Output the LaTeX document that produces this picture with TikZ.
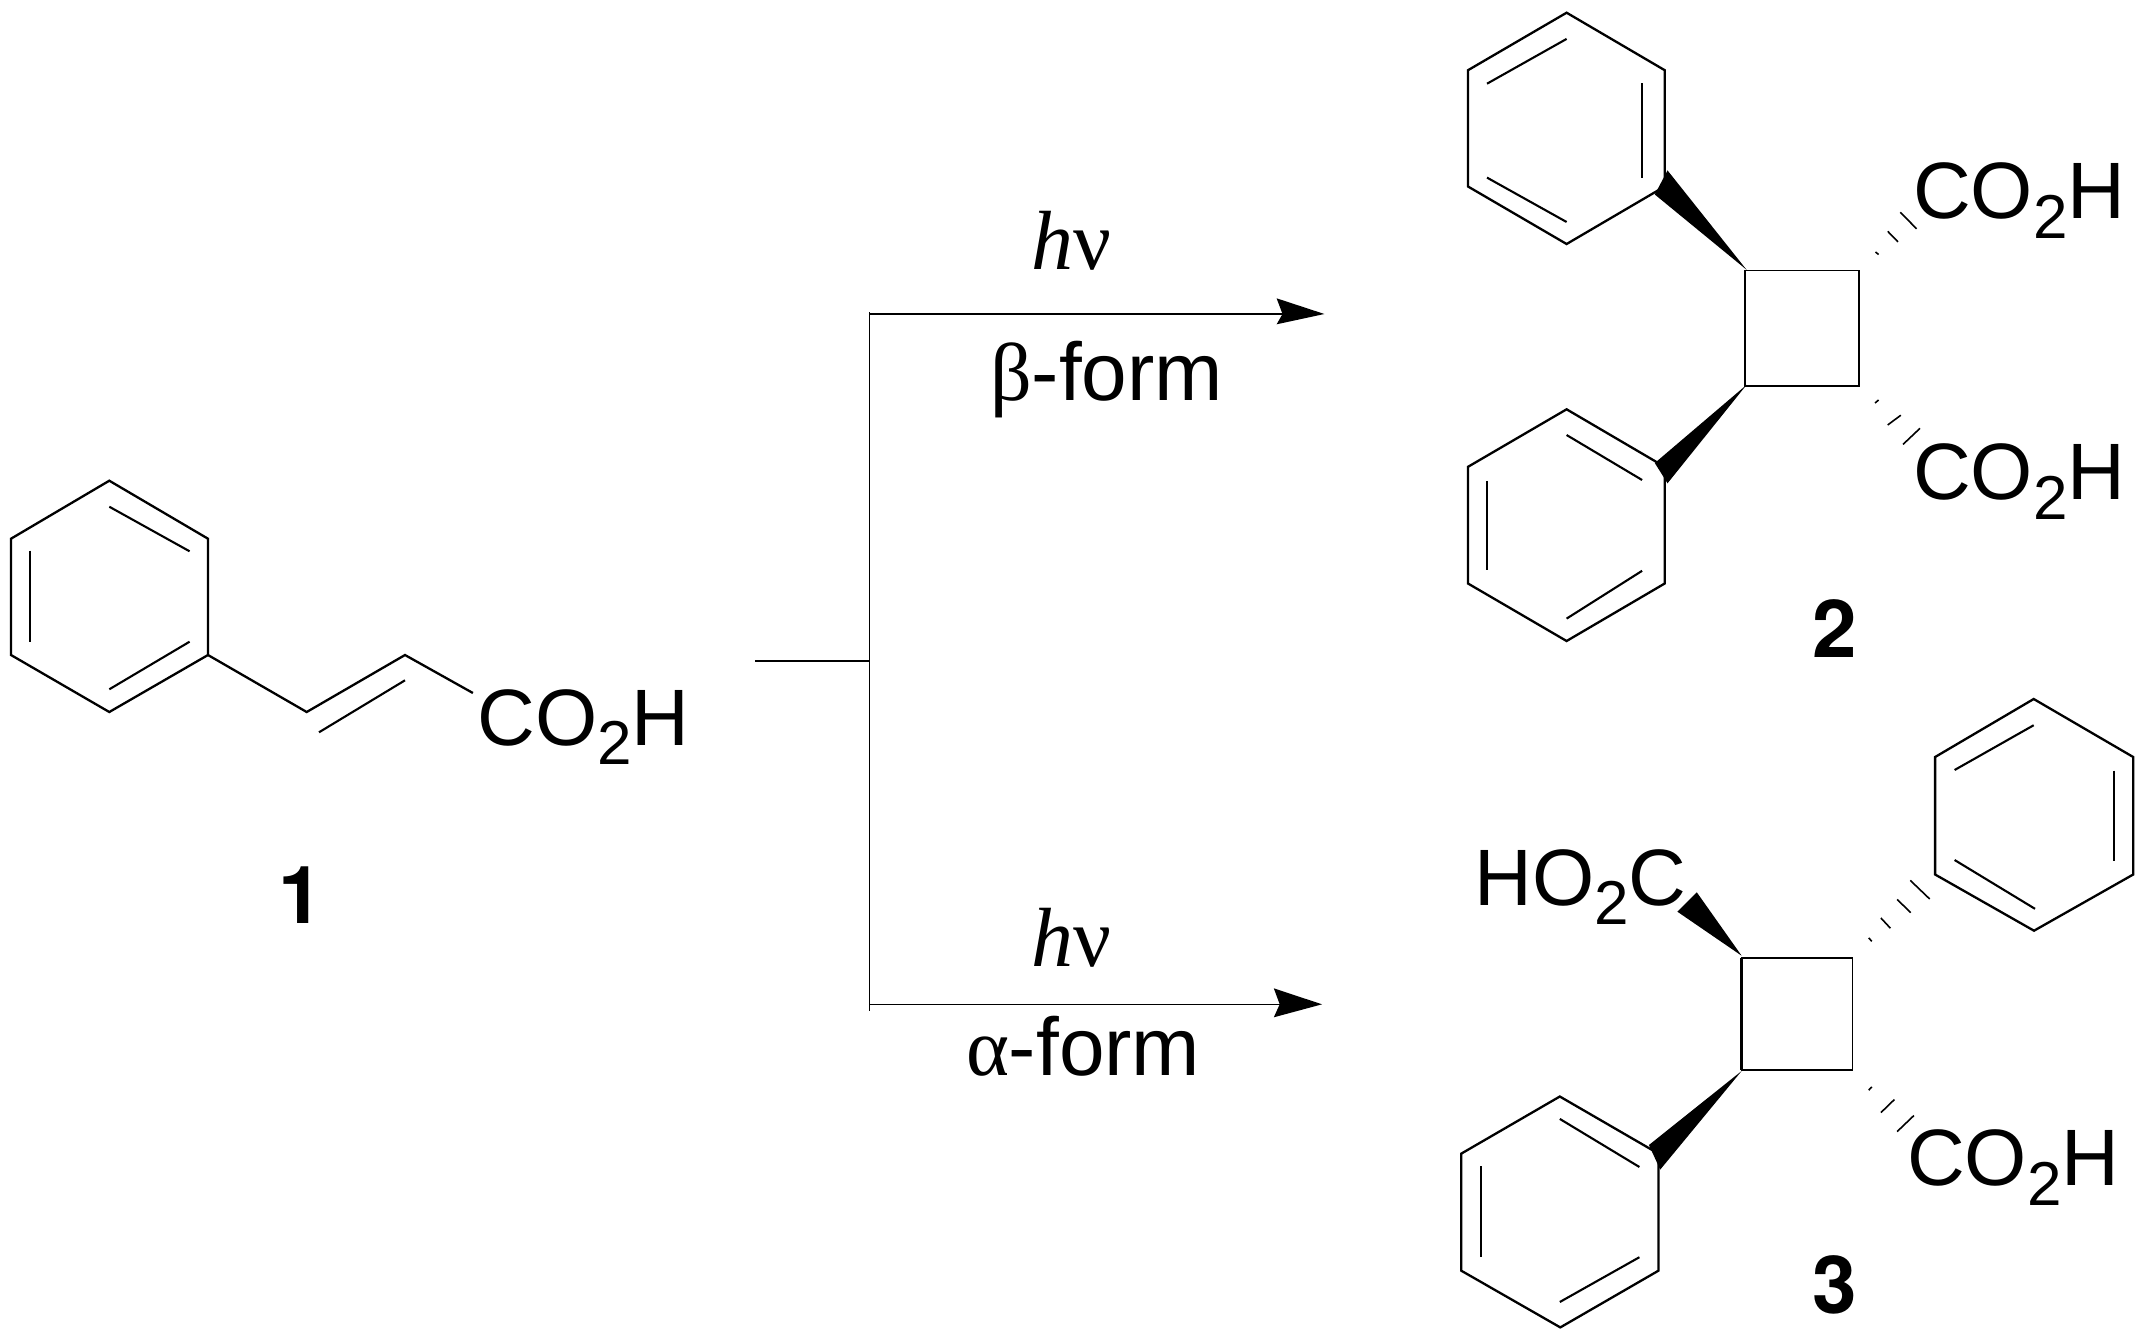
\documentclass[tikz,border=0pt]{standalone}
\usepackage{fontspec}
\setmainfont{Liberation Sans}
\newfontfamily\serifgreek{Liberation Serif}
\newfontfamily\labelfont{TeX Gyre Heros}
\newcommand{\bigfont}{\fontsize{40}{48}\selectfont}
\newcommand{\midfont}{\fontsize{41}{48}\selectfont}
\newcommand{\nufont}{\fontsize{42}{48}\selectfont}
\newcommand{\subtwo}{\raisebox{-9.7pt}{\fontsize{31}{36}\selectfont 2}}
\newcommand{\cooh}{CO\subtwo H}
\newcommand{\hooc}{HO\subtwo C}
\newcommand{\hnu}{{\serifgreek\itshape h\upshape ν}}
\tikzset{
  bond/.style={line width=1.15pt,line join=miter,line cap=butt,black},
  fine/.style={line width=1.05pt,line cap=butt,black},
  squarebond/.style={line width=0.85pt,line join=miter,line cap=butt,black},
  heavyside/.style={line width=1.3pt,line cap=butt,black},
  hashbond/.style={line width=0.8pt,line cap=butt,black},
  wedgebond/.style={fill=black,draw=none},
  chem/.style={inner sep=0pt,outer sep=0pt,anchor=base west,font=\bigfont},
  cmpd/.style={inner sep=0pt,outer sep=0pt,anchor=base,font=\labelfont\bigfont\bfseries},
  reagent/.style={inner sep=0pt,outer sep=0pt,anchor=base west,font=\midfont},
  hvlabel/.style={inner sep=0pt,outer sep=0pt,anchor=base west,font=\nufont},
  rxn/.style={line width=1.05pt,line cap=butt,black},
  rxnthin/.style={line width=0.8pt,line cap=butt,black},
  tip/.style={fill=black,draw=none}
}
\begin{document}
\begin{tikzpicture}[x=0.5pt,y=-0.5pt]
\useasboundingbox (0,0) rectangle (2149,1340);
% ---- compound 1
\draw[bond] (109.3,480.7) -- (208,538.7) -- (208,655) -- (109.3,712) -- (11,655) -- (11,538.7) -- cycle;
\draw[fine] (109.3,506.7) -- (189.6,551.3);
\draw[fine] (29.8,550.7) -- (29.8,641.7);
\draw[fine] (109.3,689.3) -- (189.6,641.7);
\node[chem] (acidA) at (477.5,745) {\cooh};
\coordinate (chainA) at (472.9,693);
\draw[bond] (208,655) -- (306.7,712) -- (405,655) -- (chainA);
\draw[fine] (319,732.3) -- (405,680.3);
\node[cmpd] (labA) at (301,923.3) {1};
% ---- reaction scheme
\coordinate (start) at (755,661);
\coordinate (branch) at (869.3,661);
\coordinate (topcorner) at (869.3,314);
\coordinate (botcorner) at (869.3,1004.3);
\coordinate (topend) at (1282.5,314);
\coordinate (botend) at (1279.7,1004.3);
\coordinate (vtop) at (869.3,312);
\coordinate (vbot) at (869.3,1010.7);
\draw[rxn] (start) -- (branch);
\draw[rxnthin] (vtop) -- (vbot);
\draw[rxn] (topcorner) -- (topend);
\draw[rxnthin] (botcorner) -- (botend);
\fill[tip] (1324.4,314) -- (1276.6,298.3) -- (topend) -- (1276.6,324.3) -- cycle;
\fill[tip] (1322,1004.3) -- (1273.8,988.3) -- (botend) -- (1273.8,1017.3) -- cycle;
\node[hvlabel] (hvtop) at (1031.8,269.3) {\hnu};
\node[hvlabel] (hvbot) at (1031.8,966) {\hnu};
\node[reagent] (beta) at (990,400.7) {{\serifgreek β}-form};
\node[reagent] (alpha) at (966,1075) {{\serifgreek α}-form};
% ---- compound 2
\coordinate (a1) at (1744.8,270.6);
\coordinate (a2) at (1859.2,270.6);
\coordinate (a3) at (1859.2,386);
\coordinate (a4) at (1744.8,386);
\draw[squarebond] (a1) -- (a2) -- (a3) -- (a4) -- cycle;
\draw[bond] (1566.6,12.7) -- (1664.7,70.2) -- (1664.7,186.5) -- (1566.6,244) -- (1468,186.5) -- (1468,70.2) -- cycle;
\draw[fine] (1487,83.7) -- (1566.6,38.9);
\draw[fine] (1642.1,83.3) -- (1642.1,177.6);
\draw[fine] (1487,177.6) -- (1566.6,222);
\draw[bond] (1566.6,409.3) -- (1664.7,466.8) -- (1664.7,583.5) -- (1566.6,641) -- (1468,583.5) -- (1468,466.8) -- cycle;
\draw[fine] (1566.6,435) -- (1642.1,480);
\draw[fine] (1487,480.8) -- (1487,569.6);
\draw[fine] (1566.6,618.6) -- (1642.1,570.8);
\fill[wedgebond] (1746.6,269.8) -- (1667.5,170.4) -- (1654.8,194.5) -- cycle;
\fill[wedgebond] (1746.6,384.8) -- (1667.5,483.3) -- (1654.8,463) -- cycle;
\draw[hashbond] (1875.5,252) -- (1878.6,254.5);
\draw[hashbond] (1887.7,231.3) -- (1898,241.9);
\draw[hashbond] (1900.3,212.3) -- (1916.6,228.8);
\draw[hashbond] (1875,403) -- (1878.6,400);
\draw[hashbond] (1887.7,425) -- (1900.8,415.2);
\draw[hashbond] (1903,444.4) -- (1920,428.3);
\node[chem] (acidB1) at (1913,218.6) {\cooh};
\node[chem] (acidB2) at (1913,499.8) {\cooh};
\node[cmpd] (labB) at (1834.5,657.5) {2};
% ---- compound 3
\coordinate (b1) at (1741.2,957.8);
\coordinate (b2) at (1852.4,957.8);
\coordinate (b3) at (1852.4,1069.9);
\coordinate (b4) at (1741.2,1069.9);
\draw[squarebond] (b1) -- (b2) -- (b3) -- (b4);
\draw[heavyside] (b4) -- (b1);
\draw[bond] (2033.7,699) -- (2133.2,757) -- (2133.2,874.5) -- (2034,930.7) -- (1935.1,874.5) -- (1935.1,757) -- cycle;
\draw[fine] (1954.6,770) -- (2033.7,725.2);
\draw[fine] (2113.8,770.5) -- (2113.8,860.5);
\draw[fine] (1954.6,860) -- (2035,908.8);
\draw[bond] (1559.8,1096.5) -- (1658.4,1153.6) -- (1658.4,1270.7) -- (1560.3,1327.4) -- (1461.3,1270.7) -- (1461.3,1153.6) -- cycle;
\draw[fine] (1559.8,1118.9) -- (1639.4,1167);
\draw[fine] (1480.7,1166.3) -- (1480.7,1257.2);
\draw[fine] (1559.8,1302) -- (1639.4,1257.2);
\fill[wedgebond] (1741.6,955.7) -- (1696.8,892.3) -- (1677.4,911.7) -- cycle;
\fill[wedgebond] (1741.6,1071) -- (1660.2,1169.6) -- (1648.9,1145) -- cycle;
\draw[hashbond] (1868.7,937.9) -- (1871.8,941.3);
\draw[hashbond] (1880.9,918) -- (1890.4,928.2);
\draw[hashbond] (1897.1,899.4) -- (1910.7,912.6);
\draw[hashbond] (1910.3,880.4) -- (1929.7,899);
\draw[hashbond] (1868.7,1090.2) -- (1871.8,1086.8);
\draw[hashbond] (1880.9,1112.6) -- (1894.4,1099.5);
\draw[hashbond] (1897.1,1131.6) -- (1913.9,1115.5);
\node[chem] (acidC1) at (1474.4,905.4) {\hooc};
\node[chem] (acidC2) at (1907.2,1185.7) {\cooh};
\node[cmpd] (labC) at (1834.5,1313) {3};
\end{tikzpicture}
\end{document}
